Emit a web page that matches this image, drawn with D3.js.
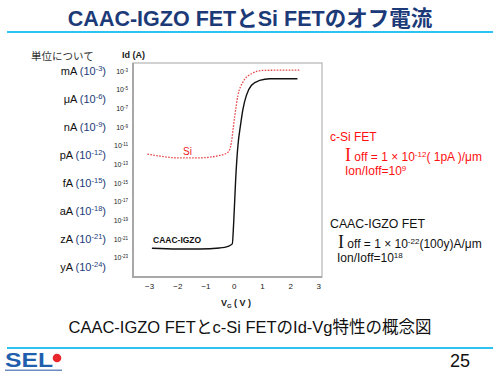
<!DOCTYPE html>
<html>
<head>
<meta charset="utf-8">
<script src="https://cdn.jsdelivr.net/npm/d3@7"></script>
<style>
  body { margin: 0; background: #fff; }
  text { font-family: "Liberation Sans", Arial, "Noto Sans CJK JP", sans-serif; }
</style>
</head>
<body>
<div id="chart"></div>
<script>
// Id-Vg curves (Vg in volts, Id in amps)
const igzoVg = [-2.9, -2.0, -1.2, -0.5, -0.2, -0.05, 0.0, 0.07, 0.15, 0.24, 0.33, 0.45, 0.63, 0.92, 1.28, 1.7, 2.26]
const igzoId = [1.0e-22, 8.3e-23, 8.3e-23, 1.07e-22, 1.6e-22, 2.9e-22, 6e-20, 2.6e-15, 1e-11, 1.4e-9, 8.5e-8, 2.3e-6, 2.8e-5, 9.3e-5, 1.4e-4, 1.4e-4, 1.4e-4]

const siVg = [-3.06, -2.6, -2.03, -1.2, -0.5, -0.2, -0.08, -0.02, 0.04, 0.15, 0.33, 0.63, 1.04, 1.6, 2.34]
const siId = [1.2e-12, 7.2e-13, 4.8e-13, 4.8e-13, 8.5e-13, 1.9e-12, 2.3e-11, 6e-10, 1.7e-8, 2.3e-6, 6.2e-5, 4.8e-4, 1.1e-3, 1.15e-3, 1.17e-3]

const xTicks = [-3, -2, -1, 0, 1, 2, 3]
const yTickExps = [-3, -5, -7, -9, -11, -13, -15, -17, -19, -21, -23]
const unitNames = ['mA', 'μA', 'nA', 'pA', 'fA', 'aA', 'zA', 'yA']
const unitExps = [-3, -6, -9, -12, -15, -18, -21, -24]

const W = 500, H = 378
const frame = { left: 133, right: 322, top: 63, bottom: 277 }

const svg = d3.select('#chart').append('svg')
    .attr('width', W)
    .attr('height', H)
    .style('display', 'block')

// --- slide header ---
svg.append('text')
    .attr('x', 250).attr('y', 26)
    .attr('text-anchor', 'middle')
    .style('font-size', '21.5px')
    .style('font-weight', 'bold')
    .style('fill', '#1c3a78')
    .text('CAAC-IGZO FETとSi FETのオフ電流')

svg.append('rect')
    .attr('x', 7).attr('y', 31).attr('width', 486).attr('height', 2)
    .style('fill', '#2cc3f2')

// --- scales ---
const x = d3.scaleLinear()
    .domain([-3.57, 3.13])
    .range([frame.left, frame.right])

const y = d3.scaleLog()
    .domain([Math.pow(10, -25.08), Math.pow(10, -2.17)])
    .range([frame.bottom, frame.top])

// frame
svg.append('rect')
    .attr('x', frame.left).attr('y', frame.top)
    .attr('width', frame.right - frame.left)
    .attr('height', frame.bottom - frame.top)
    .style('fill', 'none')
    .style('stroke', '#b4b4b4')
    .style('stroke-width', 1.2)
svg.append('path')
    .attr('d', `M${frame.left},${frame.top}V${frame.bottom}H${frame.right}`)
    .style('fill', 'none')
    .style('stroke', '#a8a8a8')
    .style('stroke-width', 2)

// x axis
const xAxis = svg.append('g')
    .attr('transform', `translate(0,${frame.bottom})`)
    .call(d3.axisBottom(x).tickValues(xTicks).tickSize(0).tickPadding(6).tickFormat(d3.format('d')))
xAxis.select('.domain').remove()
xAxis.selectAll('text')
    .style('font-size', '8px')
    .style('fill', '#222')

const xLabel = svg.append('text')
    .attr('x', 236).attr('y', 306)
    .attr('text-anchor', 'middle')
    .style('font-size', '9px')
    .style('font-weight', 'bold')
    .style('fill', '#222')
xLabel.append('tspan').text('V')
xLabel.append('tspan').attr('dy', 2).style('font-size', '6px').text('G')
xLabel.append('tspan').attr('dy', -2).text(' ( V )')

// y axis (log)
const yAxis = svg.append('g')
    .attr('transform', `translate(${frame.left},0)`)
    .call(d3.axisLeft(y).tickValues(yTickExps.map(e => Math.pow(10, e))).tickSize(0).tickPadding(5))
yAxis.select('.domain').remove()
yAxis.selectAll('.tick text')
    .style('font-size', '7px')
    .style('fill', '#222')
    .text('')
    .each(function (d) {
        const t = d3.select(this)
        t.append('tspan').text('10')
        t.append('tspan').attr('dy', -2).style('font-size', '4.5px').text(Math.round(Math.log10(d)))
    })

svg.append('text')
    .attr('x', 122).attr('y', 58)
    .style('font-size', '9px')
    .style('font-weight', 'bold')
    .style('fill', '#222')
    .text('Id (A)')

// unit legend on the left
svg.append('text')
    .attr('x', 31).attr('y', 60)
    .style('font-size', '10.5px')
    .style('fill', '#333')
    .text('単位について')

unitNames.forEach((u, i) => {
    const t = svg.append('text')
        .attr('x', 106)
        .attr('y', y(Math.pow(10, unitExps[i])) + 4)
        .attr('text-anchor', 'end')
        .style('font-size', '11px')
    t.append('tspan').style('fill', '#111').text(u + ' ')
    t.append('tspan').style('fill', '#1c3a78').text('(10')
    t.append('tspan').style('fill', '#1c3a78').style('font-size', '7.5px').attr('dy', -4).text(unitExps[i])
    t.append('tspan').style('fill', '#1c3a78').attr('dy', 4).text(')')
})

// curves
const line = d3.line()
    .x(d => x(d[0]))
    .y(d => y(d[1]))
    .curve(d3.curveMonotoneX)

svg.append('path')
    .datum(d3.zip(siVg, siId))
    .attr('d', line)
    .style('fill', 'none')
    .style('stroke', '#e8474a')
    .style('stroke-width', 1.3)
    .style('stroke-dasharray', '1.6,1.4')

svg.append('path')
    .datum(d3.zip(igzoVg, igzoId))
    .attr('d', line)
    .style('fill', 'none')
    .style('stroke', '#111')
    .style('stroke-width', 1.4)

svg.append('text')
    .attr('x', 183).attr('y', 155)
    .style('font-size', '10px')
    .style('fill', '#f01818')
    .text('Si')

svg.append('text')
    .attr('x', 153).attr('y', 243)
    .style('font-size', '8.5px')
    .style('font-weight', 'bold')
    .style('fill', '#111')
    .text('CAAC-IGZO')

// annotations on the right
const red = '#ff1010'
svg.append('text')
    .attr('x', 330).attr('y', 141)
    .style('font-size', '12px').style('fill', red)
    .text('c-Si FET')

const siOff = svg.append('text')
    .attr('x', 345).attr('y', 161)
    .style('font-size', '12px').style('fill', red)
siOff.append('tspan').style('font-family', '"Liberation Serif", serif').style('font-size', '18px').text('I')
siOff.append('tspan').text(' off = 1 × 10')
siOff.append('tspan').attr('dy', -4).style('font-size', '8px').text('-12')
siOff.append('tspan').attr('dy', 4).text('( 1pA )/μm')

const siRatio = svg.append('text')
    .attr('x', 345).attr('y', 175)
    .style('font-size', '12px').style('fill', red)
siRatio.append('tspan').text('Ion/Ioff=10')
siRatio.append('tspan').attr('dy', -4).style('font-size', '8px').text('9')

svg.append('text')
    .attr('x', 330).attr('y', 228)
    .style('font-size', '12.3px').style('fill', '#111')
    .text('CAAC-IGZO FET')

const igOff = svg.append('text')
    .attr('x', 338).attr('y', 248)
    .style('font-size', '12px').style('fill', '#111')
igOff.append('tspan').style('font-family', '"Liberation Serif", serif').style('font-size', '18px').text('I')
igOff.append('tspan').text(' off = 1 × 10')
igOff.append('tspan').attr('dy', -4).style('font-size', '8px').text('-22')
igOff.append('tspan').attr('dy', 4).text('(100y)A/μm')

const igRatio = svg.append('text')
    .attr('x', 337).attr('y', 262)
    .style('font-size', '12px').style('fill', '#111')
igRatio.append('tspan').text('Ion/Ioff=10')
igRatio.append('tspan').attr('dy', -4).style('font-size', '8px').text('18')

// caption and footer
svg.append('text')
    .attr('x', 250).attr('y', 333)
    .attr('text-anchor', 'middle')
    .style('font-size', '16.5px')
    .style('fill', '#111')
    .text('CAAC-IGZO FETとc-Si FETのId-Vg特性の概念図')

svg.append('rect')
    .attr('x', 7).attr('y', 347).attr('width', 486).attr('height', 2)
    .style('fill', '#2cc3f2')

// SEL logo
svg.append('text')
    .attr('x', 5).attr('y', 367)
    .attr('textLength', 48)
    .attr('lengthAdjust', 'spacingAndGlyphs')
    .style('font-size', '20px')
    .style('font-weight', 'bold')
    .style('fill', '#1f5fae')
    .text('SEL')
svg.append('circle')
    .attr('cx', 57).attr('cy', 358).attr('r', 4.3)
    .style('fill', '#e8262b')
svg.append('rect')
    .attr('x', 5).attr('y', 369.5).attr('width', 57).attr('height', 1.5)
    .style('fill', '#6d8cc0')

svg.append('text')
    .attr('x', 470).attr('y', 367)
    .attr('text-anchor', 'end')
    .style('font-size', '18px')
    .style('fill', '#111')
    .text('25')
</script>
</body>
</html>
